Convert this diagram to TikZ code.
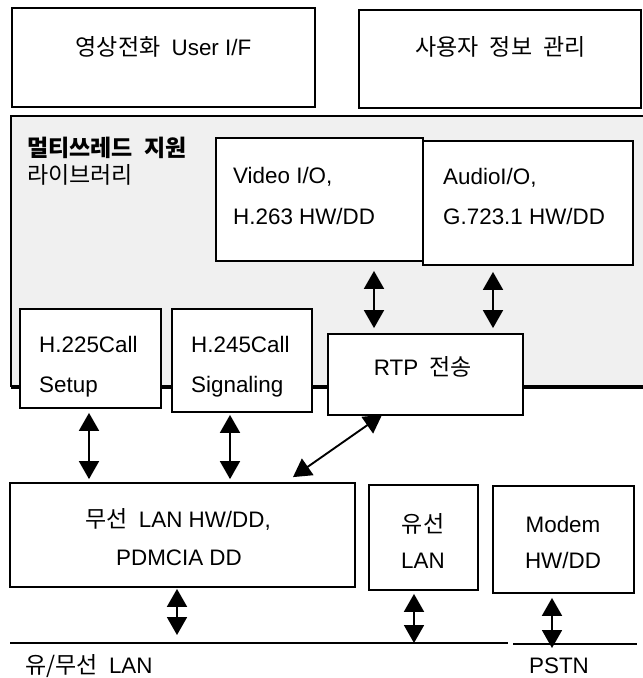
\documentclass[tikz,border=0pt]{standalone}
\usepackage{fontspec}
\setmainfont{Liberation Sans}
\newfontfamily\kr[WordSpace=2.2]{Noto Sans CJK KR}
\newcommand\kor[1]{{\kr\fontsize{23}{27}\selectfont #1}}
\usetikzlibrary{arrows.meta}
\tikzset{
  box/.style={draw, line width=1.8pt, fill=white, inner sep=0pt},
  lbl/.style={inner sep=0pt, font=\fontsize{22.4}{26}\selectfont},
  dar/.style={line width=1.9pt, {Triangle[width=20pt,length=18pt]}-{Triangle[width=20pt,length=18pt]}},
  rule/.style={line width=1.8pt},
  panelfill/.style={fill=black!6},
}
\begin{document}
\begin{tikzpicture}[x=1pt,y=-1pt]
\useasboundingbox (0,0) rectangle (643,678);

% container panel
\fill[panelfill] (11,116) rectangle (643,387);
\draw[rule] (643,116) -- (11,116) -- (11,387);
\draw[line width=3.2pt] (11,387) -- (643,387);

% boxes
\node[box, minimum width=303pt, minimum height=99pt] (ui) at (163.5,57.5) {};
\node[box, minimum width=282pt, minimum height=98pt] (um) at (500,59) {};
\node[box, minimum width=207pt, minimum height=123pt] (vid) at (319.5,199.5) {};
\node[box, minimum width=210pt, minimum height=124pt] (aud) at (528,203) {};
\node[box, minimum width=141pt, minimum height=99pt] (h225) at (90.5,358.5) {};
\node[box, minimum width=140pt, minimum height=103pt] (h245) at (242,360.5) {};
\node[box, minimum width=195pt, minimum height=81pt] (rtp) at (425.5,374.5) {};
\node[box, minimum width=345pt, minimum height=104pt] (wlan) at (182.5,535) {};
\node[box, minimum width=109pt, minimum height=105pt] (lan) at (423.5,537.5) {};
\node[box, minimum width=141pt, minimum height=107pt] (modem) at (563.5,539.5) {};

% texts
\node[lbl, anchor=base] (tui) at (163.5,55) {\kor{영상전화 }User I/F};
\node[lbl, anchor=base] (tum) at (500.5,55) {\kor{사용자 정보 관리}};
\node[lbl, anchor=base west] (tp1) at (27,156) {\kor{\bfseries 멀티쓰레드 지원}};
\node[lbl, anchor=base west] (tp2) at (27,183) {\kor{라이브러리}};
\node[lbl, anchor=base west] (tv1) at (233,183) {Video I/O,};
\node[lbl, anchor=base west] (tv2) at (233,224) {H.263 HW/DD};
\node[lbl, anchor=base west] (ta1) at (443,184) {AudioI/O,};
\node[lbl, anchor=base west] (ta2) at (443,224) {G.723.1 HW/DD};
\node[lbl, anchor=base west] (th1) at (39,352) {H.225Call};
\node[lbl, anchor=base west] (th2) at (39,392) {Setup};
\node[lbl, anchor=base west] (tg1) at (191,352) {H.245Call};
\node[lbl, anchor=base west] (tg2) at (191,392) {Signaling};
\node[lbl, anchor=base] (tr) at (423,375) {RTP\kor{ 전송}};
\node[lbl, anchor=base] (tw1) at (178,527) {\kor{무선 }LAN HW/DD,};
\node[lbl, anchor=base] (tw2) at (179,565) {PDMCIA DD};
\node[lbl, anchor=base] (tl1) at (423,532) {\kor{유선}};
\node[lbl, anchor=base] (tl2) at (423,568) {LAN};
\node[lbl, anchor=base] (tm1) at (563,532) {Modem};
\node[lbl, anchor=base] (tm2) at (563,568) {HW/DD};
\node[lbl, anchor=base west] (tnet) at (25,673) {\kor{유/무선 }LAN};
\node[lbl, anchor=base] (tpstn) at (559,673) {PSTN};

% network lines
\coordinate (lanL) at (10,643);
\coordinate (lanR) at (508,643);
\coordinate (pstnL) at (513,644);
\coordinate (pstnR) at (637,644);
\draw[rule] (lanL) -- (lanR);
\draw[rule] (pstnL) -- (pstnR);

% arrow x positions
\coordinate (xa) at (374,0);
\coordinate (xb) at (493,0);
\coordinate (xc) at (89,0);
\coordinate (xd) at (230,0);
\coordinate (xe) at (177,0);
\coordinate (xf) at (414,0);
\coordinate (xg) at (552,0);

% arrows
\draw[dar, shorten <=9pt, shorten >=5pt] (vid.south -| xa) -- (rtp.north -| xa);
\draw[dar, shorten <=6pt, shorten >=5pt] (aud.south -| xb) -- (rtp.north -| xb);
\draw[dar, shorten <=4pt, shorten >=3pt] (h225.south -| xc) -- (wlan.north -| xc);
\draw[dar, shorten <=2pt, shorten >=3pt] (h245.south -| xd) -- (wlan.north -| xd);
\draw[dar] ([xshift=-43.5pt,yshift=1pt]rtp.south) -- ([xshift=110.5pt,yshift=5pt]wlan.north);
\draw[dar, shorten <=1pt, shorten >=8pt] (wlan.south -| xe) -- (lanL -| xe);
\draw[dar, shorten <=3pt] (lan.south -| xf) -- (lanL -| xf);
\draw[dar, shorten <=4pt, shorten >=-4pt] (modem.south -| xg) -- (pstnL -| xg);
\end{tikzpicture}
\end{document}
